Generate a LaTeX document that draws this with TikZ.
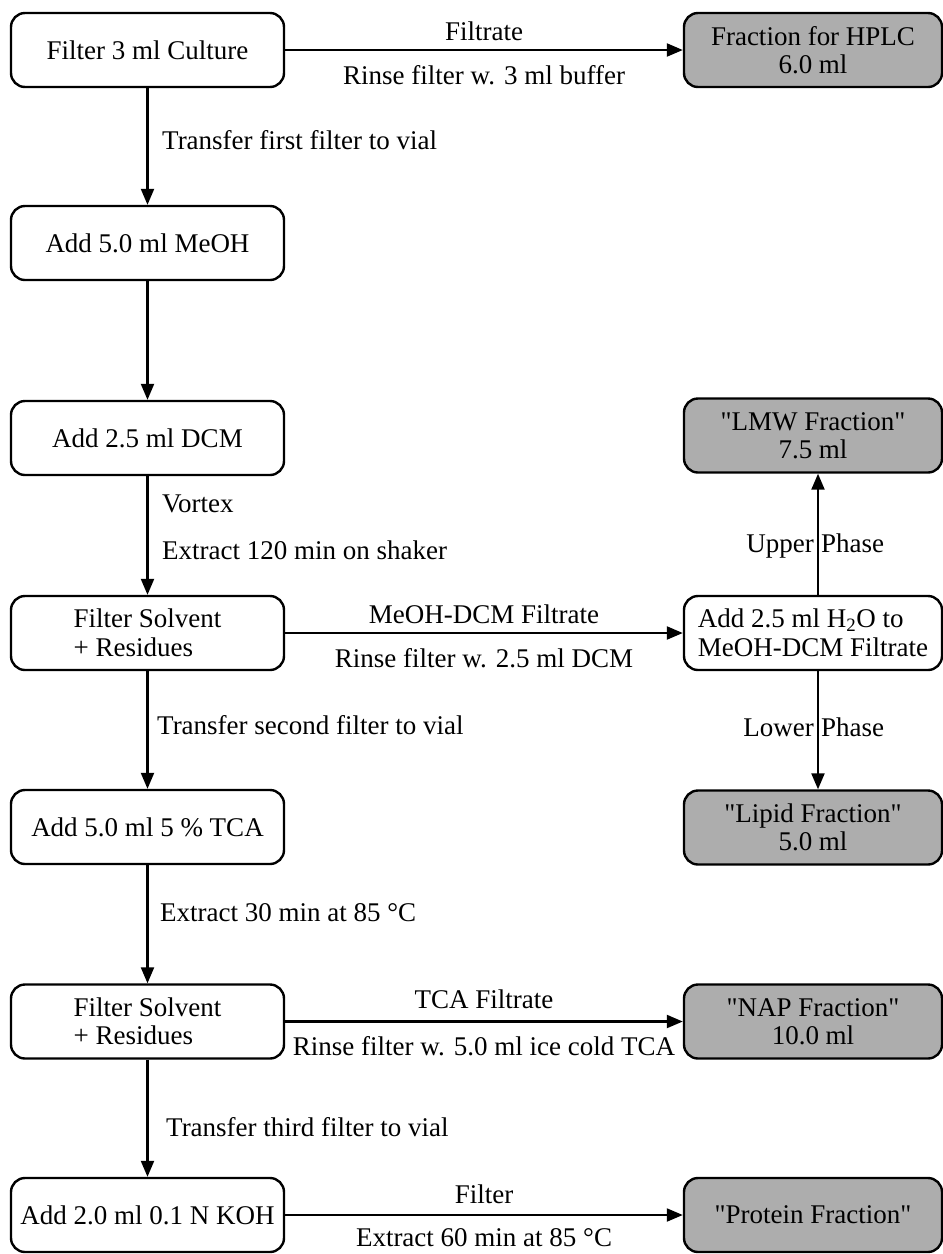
\documentclass[tikz,border=0pt]{standalone}
\usepackage{fontspec}
\setmainfont{Liberation Serif}[Ligatures=TeXOff]
\usetikzlibrary{arrows.meta}
\begin{document}
\begin{tikzpicture}[x=1pt,y=-1pt,
  every node/.style={font=\fontsize{27}{28.5}\selectfont},
  box/.style={draw, line width=2.4pt, rounded corners=14pt, minimum width=273pt, minimum height=74pt, inner sep=2pt, align=center},
  fbox/.style={box, fill=black!32, minimum width=258pt},
  rbox/.style={box, minimum width=258pt},
  arr/.style={line width=2.2pt, -{Triangle[length=16pt,width=13pt]}},
  lbl/.style={inner sep=0pt}]
\useasboundingbox (0,0) rectangle (943,1254);
% left column
\node[box] (b1) at (147.5,50) {Filter 3 ml Culture};
\node[box] (b2) at (147.5,243) {Add 5.0 ml MeOH};
\node[box] (b3) at (147.5,438) {Add 2.5 ml DCM};
\node[box, align=left] (b4) at (147.5,633) {Filter Solvent\\+ Residues};
\node[box] (b5) at (147.5,827) {Add 5.0 ml 5 \% TCA};
\node[box, align=left] (b6) at (147.5,1021.5) {Filter Solvent\\+ Residues};
\node[box] (b7) at (147.5,1215) {Add 2.0 ml 0.1 N KOH};
% right column
\node[fbox] (hplc) at (813,50) {Fraction for HPLC\\6.0 ml};
\node[fbox] (lmw) at (813,435.5) {"LMW Fraction"\\7.5 ml};
\node[rbox, align=left] (h2o) at (813,633) {Add 2.5 ml H\textsubscript{2}O to\\MeOH-DCM Filtrate};
\node[fbox] (lipid) at (813,827.5) {"Lipid Fraction"\\5.0 ml};
\node[fbox] (nap) at (813,1021.5) {"NAP Fraction"\\10.0 ml};
\node[fbox] (prot) at (813,1215) {"Protein Fraction"};
% vertical connectors
\draw[arr] (b1) -- (b2);
\draw[arr] (b2) -- (b3);
\draw[arr] (b3) -- (b4);
\draw[arr] (b4) -- (b5);
\draw[arr] (b5) -- (b6);
\draw[arr] (b6) -- (b7);
\draw[arr] ([xshift=5pt]h2o.north) -- ([xshift=5pt]lmw.south);
\draw[arr] ([xshift=5pt]h2o.south) -- ([xshift=5pt]lipid.north);
% horizontal connectors with labels
\draw[arr] (b1) -- (hplc)
  node[lbl, midway, anchor=base, yshift=10pt] (l1a) {Filtrate}
  node[lbl, midway, anchor=base, yshift=-34pt] (l1b) {Rinse filter w. 3 ml buffer};
\draw[arr] (b4) -- (h2o)
  node[lbl, midway, anchor=base, yshift=10pt] (l4a) {MeOH-DCM Filtrate}
  node[lbl, midway, anchor=base, yshift=-34pt] (l4b) {Rinse filter w. 2.5 ml DCM};
\draw[arr] (b6) -- (nap)
  node[lbl, midway, anchor=base, yshift=13pt] (l6a) {TCA Filtrate}
  node[lbl, midway, anchor=base, yshift=-34pt] (l6b) {Rinse filter w. 5.0 ml ice cold TCA};
\draw[arr] (b7) -- (prot)
  node[lbl, midway, anchor=base, yshift=12pt] (l7a) {Filter}
  node[lbl, midway, anchor=base, yshift=-31pt] (l7b) {Extract 60 min at 85 °C};
% vertical labels
\node[lbl, anchor=base west] (t1) at (162,149) {Transfer first filter to vial};
\node[lbl, anchor=base west] (t2) at (162,512) {Vortex};
\node[lbl, anchor=base west] (t3) at (162,559) {Extract 120 min on shaker};
\node[lbl, anchor=base west] (t4) at (157,734) {Transfer second filter to vial};
\node[lbl, anchor=base west] (t5) at (160,921) {Extract 30 min at 85 °C};
\node[lbl, anchor=base west] (t6) at (166,1136) {Transfer third filter to vial};
\node[lbl, anchor=base east] (up1) at (814,552) {Upper};
\node[lbl, anchor=base west] (up2) at (821,552) {Phase};
\node[lbl, anchor=base east] (lo1) at (814,736) {Lower};
\node[lbl, anchor=base west] (lo2) at (821,736) {Phase};
\end{tikzpicture}
\end{document}
